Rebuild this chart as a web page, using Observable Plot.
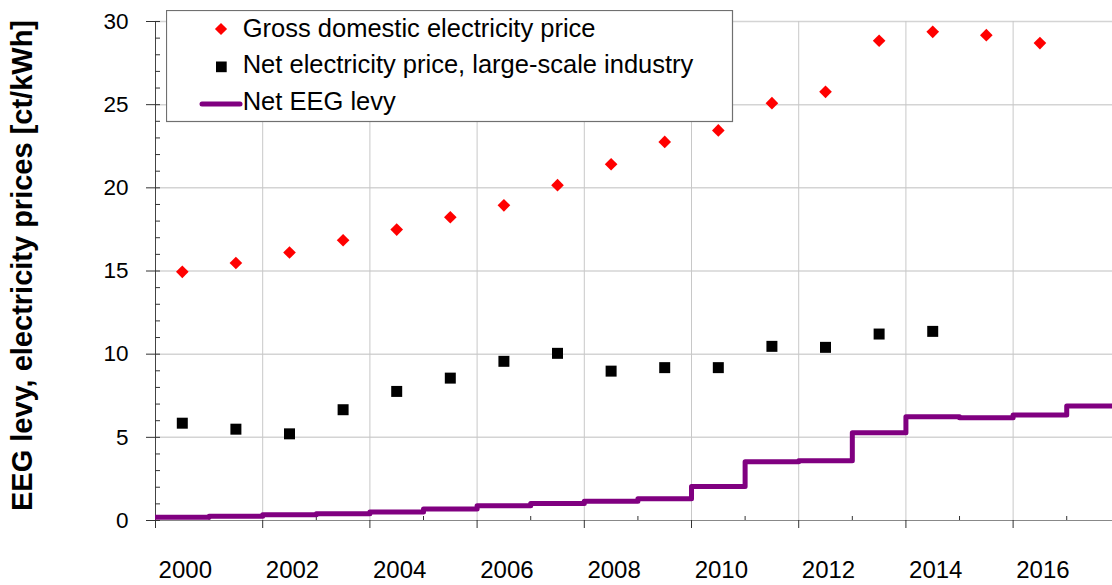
<!DOCTYPE html>
<html>
<head>
<meta charset="utf-8">
<script src="https://cdn.jsdelivr.net/npm/d3@7"></script>
<script src="https://cdn.jsdelivr.net/npm/@observablehq/plot@0.6"></script>
<style>
  html, body { margin: 0; padding: 0; background: #fff; }
  #wrap { position: relative; width: 1112px; height: 585px; font-family: "Liberation Sans", Arial, sans-serif; }
  #legend { position: absolute; left: 166px; top: 10px; }
</style>
</head>
<body>
<div id="wrap"></div>
<script>
// ---- data ----
const grossYears = [2000, 2001, 2002, 2003, 2004, 2005, 2006, 2007, 2008, 2009, 2010, 2011, 2012, 2013, 2014, 2015, 2016];
const grossPrice = [14.95, 15.48, 16.11, 16.85, 17.49, 18.23, 18.95, 20.16, 21.42, 22.76, 23.45, 25.09, 25.77, 28.84, 29.38, 29.18, 28.70];

const industryYears = [2000, 2001, 2002, 2003, 2004, 2005, 2006, 2007, 2008, 2009, 2010, 2011, 2012, 2013, 2014];
const industryPrice = [5.85, 5.49, 5.21, 6.66, 7.76, 8.56, 9.57, 10.05, 8.98, 9.19, 9.19, 10.47, 10.41, 11.21, 11.37];

const levyYears = [2000, 2001, 2002, 2003, 2004, 2005, 2006, 2007, 2008, 2009, 2010, 2011, 2012, 2013, 2014, 2015, 2016, 2017];
const levyValues = [0.20, 0.25, 0.35, 0.41, 0.51, 0.69, 0.88, 1.02, 1.16, 1.31, 2.05, 3.53, 3.59, 5.28, 6.24, 6.17, 6.35, 6.88];

const seriesNames = ["Gross domestic electricity price", "Net electricity price, large-scale industry", "Net EEG levy"];
const seriesColors = ["#ff0000", "#000000", "#800080"];
const yTitle = "EEG levy, electricity prices [ct/kWh]";
const xLabelYears = [2000, 2002, 2004, 2006, 2008, 2010, 2012, 2014, 2016];
const yMajorTicks = [0, 5, 10, 15, 20, 25, 30];

// ---- tables ----
const gross = grossYears.map((year, i) => ({year, value: grossPrice[i]}));
const industry = industryYears.map((year, i) => ({year, value: industryPrice[i]}));
const levy = levyYears.map((year, i) => ({year, value: levyValues[i]}));
levy.push({year: levyYears[levyYears.length - 1] + 1, value: levyValues[levyValues.length - 1]});

const mid = d => d.year + 0.5;

const chart = Plot.plot({
  width: 1112,
  height: 585,
  marginLeft: 155,
  marginRight: 0,
  marginTop: 21,
  marginBottom: 65,
  style: {fontFamily: "'Liberation Sans', Arial, sans-serif", color: "#000", background: "#fff", overflow: "visible"},
  x: {domain: [2000, 2017.854], axis: null},
  y: {domain: [0, 30], axis: null},
  marks: [
    Plot.gridY({ticks: yMajorTicks.filter(t => t > 0), stroke: "#d4d4d4", strokeOpacity: 1, strokeWidth: 1.5}),
    Plot.gridX({ticks: xLabelYears.filter(t => t > 2000), stroke: "#c8c8c8", strokeOpacity: 1}),
    Plot.ruleY([0], {stroke: "#888"}),
    Plot.ruleX([2000], {stroke: "#444"}),
    Plot.axisY({ticks: yMajorTicks, tickSize: 9, tickPadding: 18, fontSize: 22.5, label: null, stroke: "#333"}),
    Plot.axisY({ticks: d3.range(0, 31, 1), tickSize: 5, dx: 5, tickFormat: () => "", label: null, stroke: "#333"}),
    Plot.axisX({ticks: xLabelYears, tickSize: 8, tickFormat: () => "", label: null, stroke: "#333"}),
    Plot.axisX({ticks: xLabelYears.map(y => y + 1), tickSize: 4, dy: -4, tickFormat: () => "", label: null, stroke: "#333"}),
    Plot.axisX({ticks: xLabelYears.map(y => y + 0.5), tickSize: 0, tickPadding: 40, dx: 3, fontSize: 24, label: null,
      tickFormat: d => String(Math.round(d - 0.5))}),
    Plot.line(levy, {x: "year", y: "value", curve: "step-after", stroke: seriesColors[2], strokeWidth: 5, clip: true}),
    Plot.dot(industry, {x: mid, y: "value", symbol: "square", r: 6.2, fill: seriesColors[1], stroke: "none"}),
    Plot.dot(gross, {x: mid, y: "value", symbol: "diamond2", r: 5.7, fill: seriesColors[0], stroke: "none"}),
    Plot.text([yTitle], {frameAnchor: "left", text: d => d, rotate: -90, dx: -132.7, dy: -5.5, fontSize: 29, fontWeight: "bold",
      textAnchor: "middle", lineAnchor: "middle", fill: "#000"})
  ]
});

const wrap = document.getElementById("wrap");
wrap.appendChild(chart);

// ---- legend (overlay box) ----
const lg = d3.select(wrap).append("svg")
  .attr("id", "legend")
  .attr("width", 568).attr("height", 113);
lg.append("rect").attr("x", 0.5).attr("y", 0.5).attr("width", 566).attr("height", 111)
  .attr("fill", "#fff").attr("stroke", "#707070").attr("stroke-width", 1.2);
lg.append("path").attr("d", d3.symbol(d3.symbolDiamond2, 95)()).attr("transform", "translate(55,19)").attr("fill", seriesColors[0]);
lg.append("rect").attr("x", 50).attr("y", 51.5).attr("width", 10.7).attr("height", 10.7).attr("fill", seriesColors[1]);
lg.append("line").attr("x1", 36).attr("x2", 74).attr("y1", 94).attr("y2", 94)
  .attr("stroke", seriesColors[2]).attr("stroke-width", 5).attr("stroke-linecap", "round");
seriesNames.forEach((name, i) => {
  lg.append("text").attr("x", 76.7).attr("y", 26.7 + i * 36.65)
    .attr("font-family", "'Liberation Sans', Arial, sans-serif").attr("font-size", 25.5).attr("fill", "#000")
    .text(name);
});
</script>
</body>
</html>
